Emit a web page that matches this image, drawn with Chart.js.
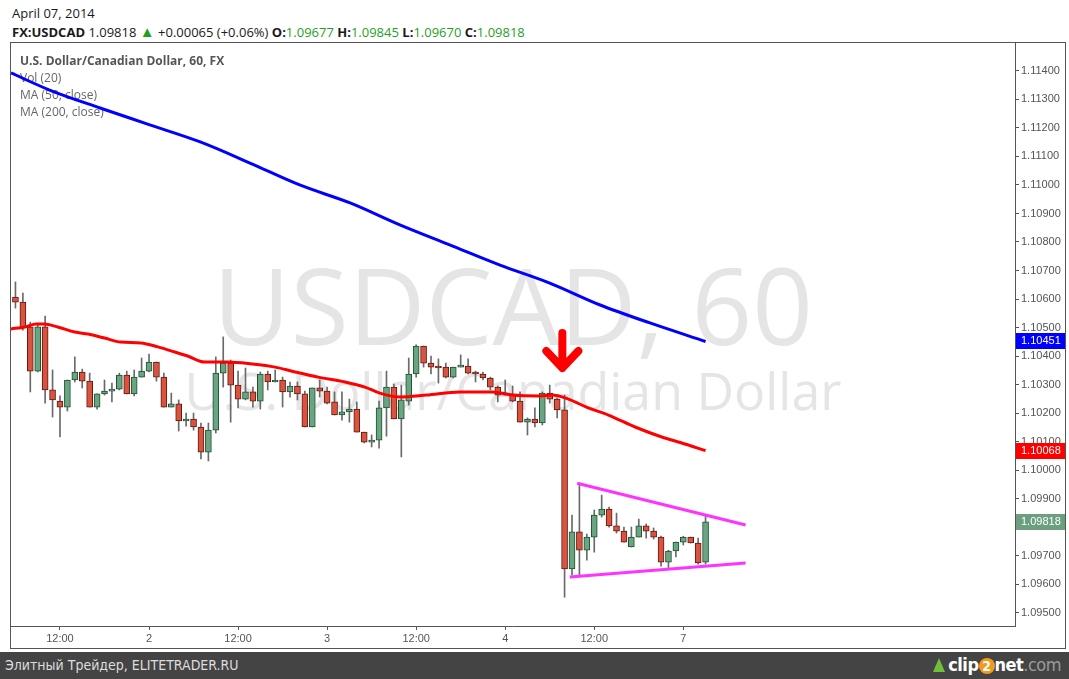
<!DOCTYPE html>
<html lang="ru">
<head>
<meta charset="UTF-8">
<title>USDCAD, 60</title>
<script src="https://cdn.jsdelivr.net/npm/chart.js@4.4.0/dist/chart.umd.min.js"></script>
<style>
  body { margin:0; width:1069px; height:679px; background:#fff; position:relative; overflow:hidden; font-family:"Open Sans", Arial, sans-serif; }
  .hdr { position:absolute; left:12px; font-size:13px; color:#1a1a1a; white-space:nowrap; }
  .hdr b { font-weight:700; }
  .g { color:#1f9f1f; }
  .tri { color:#1f9f1f; font-size:15px; }
  #frame { position:absolute; left:10px; top:42px; border:1px solid #555; }
  #footer { position:absolute; left:0; top:652px; width:1069px; height:27px; background:#444; }
  #footer .site { position:absolute; left:5px; top:5px; color:#ddd; font:14px "Liberation Sans Narrow", "DejaVu Sans Condensed", Arial, sans-serif; }
  #footer .logo { position:absolute; right:8px; top:2px; font:bold 18px "Liberation Sans Narrow", "DejaVu Sans Condensed", Arial, sans-serif; color:#fff; letter-spacing:-0.5px; }
  .logo .two { display:inline-block; width:16px; height:16px; border-radius:8px; background:#f39a1e; color:#fff; text-align:center; line-height:16px; font-size:14px; }
  .logo .com { color:#9a9a9a; font-weight:normal; }
  .logo .ico { display:inline-block; width:0; height:0; border-left:6px solid transparent; border-right:6px solid transparent; border-bottom:14px solid #6fc03a; margin-right:3px; vertical-align:-1px; }
</style>
</head>
<body>
<div class="hdr" style="top:4px">April 07, 2014</div>
<div class="hdr" id="quote" style="top:21px"></div>

<div id="frame"><canvas id="chart" width="1054" height="605"></canvas></div>

<div id="footer">
  <div class="site">Элитный Трейдер, ELITETRADER.RU</div>
  <div class="logo"><span class="ico"></span>clip<span class="two">2</span>net<span class="com">.com</span></div>
</div>

<script>
// hourly bars, Apr 1 06:00 .. Apr 7 03:00 (index = bar number)
const opens = [1.10607,1.10589,1.10502,1.10347,1.10502,1.10281,1.10242,1.10221,1.10316,1.10344,
  1.10312,1.10221,1.10267,1.10277,1.10284,1.10333,1.10267,1.10326,1.10347,1.10379,
  1.10326,1.10221,1.10232,1.10172,1.10179,1.10151,1.10063,1.10140,1.10340,1.10375,
  1.10298,1.10249,1.10274,1.10242,1.10337,1.10309,1.10316,1.10274,1.10295,1.10267,
  1.10151,1.10288,1.10277,1.10239,1.10193,1.10204,1.10214,1.10133,1.10098,1.10105,
  1.10218,1.10291,1.10179,1.10242,1.10337,1.10435,1.10375,1.10361,1.10361,1.10326,
  1.10361,1.10365,1.10340,1.10337,1.10323,1.10291,1.10263,1.10263,1.10242,1.10168,
  1.10179,1.10165,1.10270,1.10249,1.10211,1.09653,1.09783,1.09719,1.09765,1.09842,
  1.09863,1.09804,1.09786,1.09730,1.09765,1.09804,1.09786,1.09765,1.09677,1.09716,
  1.09747,1.09765,1.09744,1.09677];
const highs = [1.10660,1.10621,1.10519,1.10509,1.10540,1.10351,1.10260,1.10316,1.10397,1.10354,
  1.10340,1.10267,1.10316,1.10305,1.10340,1.10347,1.10351,1.10393,1.10407,1.10379,
  1.10340,1.10270,1.10246,1.10200,1.10200,1.10165,1.10165,1.10397,1.10467,1.10386,
  1.10347,1.10358,1.10291,1.10344,1.10347,1.10351,1.10326,1.10309,1.10309,1.10277,
  1.10288,1.10316,1.10291,1.10274,1.10274,1.10249,1.10239,1.10133,1.10123,1.10242,
  1.10347,1.10302,1.10298,1.10393,1.10439,1.10435,1.10400,1.10390,1.10375,1.10361,
  1.10404,1.10390,1.10347,1.10344,1.10326,1.10295,1.10316,1.10295,1.10274,1.10183,
  1.10218,1.10274,1.10298,1.10253,1.10263,1.09842,1.09954,1.09775,1.09860,1.09912,
  1.09870,1.09849,1.09800,1.09800,1.09828,1.09811,1.09797,1.09768,1.09719,1.09747,
  1.09768,1.09765,1.09761,1.09845];
const lows = [1.10568,1.10491,1.10274,1.10344,1.10235,1.10186,1.10116,1.10207,1.10309,1.10288,
  1.10221,1.10214,1.10263,1.10239,1.10281,1.10267,1.10260,1.10326,1.10344,1.10312,
  1.10221,1.10221,1.10137,1.10154,1.10140,1.10039,1.10032,1.10130,1.10291,1.10168,
  1.10218,1.10246,1.10221,1.10214,1.10281,1.10309,1.10221,1.10256,1.10246,1.10151,
  1.10151,1.10256,1.10232,1.10193,1.10175,1.10168,1.10133,1.10095,1.10081,1.10077,
  1.10119,1.10179,1.10046,1.10228,1.10326,1.10361,1.10337,1.10305,1.10323,1.10323,
  1.10361,1.10337,1.10309,1.10316,1.10281,1.10239,1.10263,1.10239,1.10168,1.10123,
  1.10151,1.10158,1.10235,1.10183,1.09554,1.09632,1.09632,1.09684,1.09712,1.09835,
  1.09800,1.09779,1.09747,1.09730,1.09765,1.09761,1.09758,1.09663,1.09656,1.09695,
  1.09737,1.09744,1.09670,1.09670];
const closes = [1.10589,1.10502,1.10347,1.10502,1.10281,1.10246,1.10221,1.10316,1.10344,1.10312,
  1.10221,1.10267,1.10277,1.10284,1.10333,1.10267,1.10326,1.10347,1.10379,1.10326,
  1.10221,1.10232,1.10172,1.10179,1.10151,1.10063,1.10140,1.10340,1.10375,1.10298,
  1.10249,1.10274,1.10242,1.10337,1.10309,1.10316,1.10274,1.10295,1.10267,1.10151,
  1.10288,1.10277,1.10235,1.10193,1.10204,1.10214,1.10133,1.10098,1.10105,1.10218,
  1.10291,1.10179,1.10246,1.10337,1.10435,1.10375,1.10361,1.10358,1.10326,1.10361,
  1.10368,1.10340,1.10337,1.10323,1.10291,1.10263,1.10266,1.10242,1.10168,1.10179,
  1.10165,1.10270,1.10249,1.10211,1.09653,1.09783,1.09719,1.09765,1.09842,1.09863,
  1.09804,1.09786,1.09747,1.09765,1.09804,1.09786,1.09765,1.09677,1.09716,1.09747,
  1.09765,1.09744,1.09674,1.09818];

// moving averages at these bar positions
const ma50Idx = [-0.6,1.3,2.8,3.8,5.7,8,9.8,12,14.2,16.9,19.2,21.5,23.2,25.5,28.6,31.9,35,37.7,40.8,44.4,47.1,49.1,51.8,55.4,59.9,64.3,67,70.7,72.3,74.5,77.2,79.9,83.5,87.1,89.8,93];
const ma50Val = [1.10495,1.10502,1.10512,1.10512,1.10502,1.10484,1.10477,1.10463,1.10449,1.10446,1.10432,1.10414,1.10400,1.10379,1.10379,1.10372,1.10361,1.10344,1.10326,1.10309,1.10291,1.10270,1.10256,1.10263,1.10274,1.10274,1.10263,1.10260,1.10263,1.10249,1.10218,1.10193,1.10151,1.10116,1.10095,1.10068];
const ma200Idx = [-0.6,4.6,11.4,18.1,24.9,31.6,38.3,45.1,51.8,58.6,65.3,72,78.8,85.5,93];
const ma200Val = [1.11393,1.11333,1.11270,1.11211,1.11151,1.11077,1.11000,1.10937,1.10860,1.10789,1.10719,1.10656,1.10579,1.10516,1.10451];

// triangle drawn on the chart
const triUpperIdx = [75.7, 98.4];
const triUpperVal = [1.09954, 1.09807];
const triLowerIdx = [74.7, 98.4];
const triLowerVal = [1.09625, 1.09674];

// red arrow marker
const arrowIdx = 73.7;
const arrowTop = 1.10481;
const arrowTip = 1.10358;

const xTickIdx = [6, 18, 30, 42, 54, 66, 78, 90];
const xTickText = ['12:00', '2', '12:00', '3', '12:00', '4', '12:00', '7'];
const yTicks = [1.095,1.096,1.097,1.098,1.099,1.100,1.101,1.102,1.103,1.104,1.105,1.106,1.107,1.108,1.109,1.110,1.111,1.112,1.113,1.114];

const title = 'U.S. Dollar/Canadian Dollar, 60, FX';
const studies = ['Vol (20)', 'MA (50, close)', 'MA (200, close)'];
const dayChange = '+0.00065 (+0.06%)';

const last = closes.length - 1;
document.getElementById('quote').innerHTML =
  '<b>FX:USDCAD</b> ' + closes[last].toFixed(5) + ' <span class="tri">&#9650;</span> ' + dayChange +
  ' <b>O:</b><span class="g">' + opens[last].toFixed(5) + '</span>' +
  ' <b>H:</b><span class="g">' + highs[last].toFixed(5) + '</span>' +
  ' <b>L:</b><span class="g">' + lows[last].toFixed(5) + '</span>' +
  ' <b>C:</b><span class="g">' + closes[last].toFixed(5) + '</span>';

const up = closes.map((c, i) => c >= opens[i]);
const wicks = closes.map((c, i) => ({x: i, y: [lows[i], highs[i]]}));
const bodies = closes.map((c, i) => ({x: i, y: [opens[i], c]}));
const pts = (xs, ys) => xs.map((x, i) => ({x: x, y: ys[i]}));

const decor = {
  id: 'decor',
  beforeDatasetsDraw(chart) {
    const {ctx, chartArea: a} = chart;
    const cx = (a.left + a.right) / 2;
    ctx.save();
    ctx.fillStyle = '#e5e5e5';
    ctx.textAlign = 'center';
    ctx.textBaseline = 'alphabetic';
    ctx.font = '100px "Open Sans"';
    let s = 600 / ctx.measureText('USDCAD, 60').width * 100;
    ctx.font = s + 'px "Open Sans"';
    ctx.fillText('USDCAD, 60', cx, 302);
    ctx.font = '50px "Open Sans"';
    s = 657 / ctx.measureText('U.S. Dollar/Canadian Dollar').width * 50;
    ctx.font = s + 'px "Open Sans"';
    ctx.fillText('U.S. Dollar/Canadian Dollar', cx, 367);

    ctx.textAlign = 'left';
    ctx.textBaseline = 'middle';
    ctx.font = 'bold 12px "Open Sans"';
    ctx.fillStyle = '#555';
    ctx.fillText(title, 9, 19);
    ctx.font = '12px "Open Sans"';
    ctx.fillStyle = '#666';
    studies.forEach((t, i) => ctx.fillText(t, 9, 36 + i * 17));
    ctx.restore();
  },
  afterDatasetsDraw(chart) {
    const {ctx, scales: {x, y}} = chart;
    const px = x.getPixelForValue(arrowIdx);
    const top = y.getPixelForValue(arrowTop);
    const tip = y.getPixelForValue(arrowTip);
    ctx.save();
    ctx.strokeStyle = '#ff0000';
    ctx.lineWidth = 8;
    ctx.lineCap = 'round';
    ctx.lineJoin = 'round';
    ctx.beginPath();
    ctx.moveTo(px, top);
    ctx.lineTo(px, tip - 4);
    ctx.moveTo(px - 16, tip - 17);
    ctx.lineTo(px, tip);
    ctx.lineTo(px + 16, tip - 17);
    ctx.stroke();
    ctx.restore();
  },
  afterDraw(chart) {
    const {ctx, chartArea: a, scales: {y}} = chart;
    const badges = [
      [ma200Val[ma200Val.length - 1], '#0000ff'],
      [ma50Val[ma50Val.length - 1], '#ff0000'],
      [closes[last], '#6b9f80']
    ];
    ctx.save();
    ctx.font = '11px "Liberation Sans", Arial';
    ctx.textBaseline = 'middle';
    ctx.textAlign = 'left';
    badges.forEach(([v, bg]) => {
      const py = Math.round(y.getPixelForValue(v));
      ctx.fillStyle = bg;
      ctx.fillRect(a.right + 1, py - 8, chart.width - a.right - 1, 16);
      ctx.fillStyle = '#fff';
      ctx.fillText(v.toFixed(5), a.right + 6, py);
    });
    ctx.restore();
  }
};

Chart.defaults.font.family = '"Liberation Sans", Arial, sans-serif';
Chart.defaults.font.size = 11;
Chart.defaults.color = '#555';

new Chart(document.getElementById('chart'), {
  type: 'bar',
  data: {
    datasets: [
      {
        type: 'line', data: pts(triUpperIdx, triUpperVal), borderColor: '#ff33ff',
        borderWidth: 3, pointRadius: 0, order: 0
      },
      {
        type: 'line', data: pts(triLowerIdx, triLowerVal), borderColor: '#ff33ff',
        borderWidth: 3, pointRadius: 0, order: 0
      },
      {
        type: 'line', data: pts(ma200Idx, ma200Val), borderColor: '#0000ff',
        borderWidth: 3, pointRadius: 0, cubicInterpolationMode: 'monotone', order: 1
      },
      {
        type: 'line', data: pts(ma50Idx, ma50Val), borderColor: '#ff0000',
        borderWidth: 3, pointRadius: 0, cubicInterpolationMode: 'monotone', order: 1
      },
      {
        data: bodies, grouped: false, barThickness: 6, minBarLength: 2,
        backgroundColor: up.map(u => u ? '#6aa582' : '#d9533f'),
        borderColor: up.map(u => u ? '#1e4f31' : '#5c1a12'),
        borderWidth: 1, borderSkipped: false, order: 2
      },
      {
        data: wicks, grouped: false, barThickness: 1,
        backgroundColor: '#6a6a6a', borderWidth: 0, order: 3
      }
    ]
  },
  options: {
    responsive: false,
    animation: false,
    devicePixelRatio: 1,
    layout: { padding: 0 },
    plugins: { legend: { display: false }, tooltip: { enabled: false } },
    scales: {
      x: {
        type: 'linear', min: -0.6, max: 134.7, offset: false,
        grid: { drawOnChartArea: false, drawTicks: true, tickLength: 4, color: '#555', offset: false },
        border: { display: true, color: '#555' },
        afterBuildTicks: s => { s.ticks = xTickIdx.map(v => ({value: v})); },
        afterFit: s => { s.height = 22; s.paddingLeft = 0; s.paddingRight = 0; },
        ticks: { padding: 2, maxRotation: 0, autoSkip: false,
          callback: v => xTickText[xTickIdx.indexOf(v)] }
      },
      y: {
        position: 'right', min: 1.09453, max: 1.11498,
        grid: { drawOnChartArea: false, drawTicks: true, tickLength: 4, color: '#555' },
        border: { display: true, color: '#555' },
        afterBuildTicks: s => { s.ticks = yTicks.map(v => ({value: v})); },
        afterFit: s => { s.width = 50; s.paddingTop = 0; s.paddingBottom = 0; },
        ticks: { padding: 2, callback: v => v.toFixed(5) }
      }
    }
  },
  plugins: [decor]
});
</script>
</body>
</html>
